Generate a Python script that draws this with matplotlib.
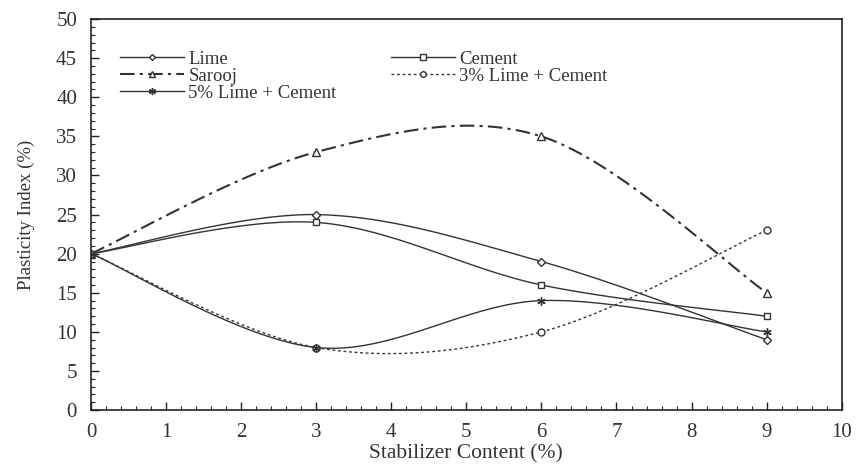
import matplotlib
matplotlib.use("Agg")
import matplotlib.pyplot as plt
import numpy as np
from matplotlib.ticker import MultipleLocator

plt.rcParams['font.family'] = ['Liberation Serif', 'DejaVu Serif']

# Teor de estabilizante (%)
stabilizer = [0, 3, 6, 9]

# Índice de plasticidade (%) para cada estabilizante
lime = [20, 25, 19, 9]
cement = [20, 24, 16, 12]
sarooj = [20, 33, 35, 15]
lime3_cement = [20, 8, 10, 23]
lime5_cement = [20, 8, 14, 10]


def smooth_curve(x, y, n=40):
    """Curva suavizada por segmentos de Bézier (tangentes tipo Catmull-Rom)."""
    pts = np.column_stack([np.asarray(x, float), np.asarray(y, float)])
    out = []
    for i in range(len(pts) - 1):
        p0 = pts[max(i - 1, 0)]
        p1 = pts[i]
        p2 = pts[i + 1]
        p3 = pts[min(i + 2, len(pts) - 1)]
        c1 = p1 + (p2 - p0) / 6.0
        c2 = p2 - (p3 - p1) / 6.0
        t = np.linspace(0, 1, n)[:, None]
        seg = ((1 - t) ** 3) * p1 + 3 * ((1 - t) ** 2) * t * c1 \
            + 3 * (1 - t) * t ** 2 * c2 + t ** 3 * p2
        out.append(seg if i == 0 else seg[1:])
    curve = np.vstack(out)
    return curve[:, 0], curve[:, 1]


fig = plt.figure(figsize=(8.56, 4.66), dpi=100)
ax = fig.add_axes([0.1063, 0.120, 0.877, 0.839])

cor = '#333333'
series = [
    ('Lime', lime, '-', 'D', 4),
    ('Cement', cement, '-', 's', 5),
    ('Sarooj', sarooj, (0, (7, 2.5, 1.5, 2.5)), '^', 6),
    ('3% Lime + Cement', lime3_cement, (0, (2, 2)), 'o', 5),
    ('5% Lime + Cement', lime5_cement, '-', (6, 2, 0), 6),
]

handles = {}
for nome, valores, estilo, marcador, tam in series:
    xs, ys = smooth_curve(stabilizer, valores)
    larg = 1.5 if nome == 'Sarooj' else 1.0
    ax.plot(xs, ys, linestyle=estilo, color=cor, linewidth=larg)
    ax.plot(stabilizer, valores, linestyle='none', marker=marcador,
            markersize=tam, markerfacecolor='white', markeredgecolor=cor,
            markeredgewidth=1.0)
    # Entrada de legenda: linha + marcador
    h, = ax.plot([], [], linestyle=estilo, color=cor, linewidth=larg,
                 marker=marcador, markersize=tam - 1, markerfacecolor='white',
                 markeredgecolor=cor, markeredgewidth=1.0)
    handles[nome] = h

ax.set_xlim(0, 10)
ax.set_ylim(0, 50)
ax.xaxis.set_major_locator(MultipleLocator(1))
ax.xaxis.set_minor_locator(MultipleLocator(0.2))
ax.yaxis.set_major_locator(MultipleLocator(5))
ax.yaxis.set_minor_locator(MultipleLocator(1))
ax.tick_params(which='both', direction='in', top=False, right=False,
               labelsize=15, color='#222222', labelcolor='#333333')
ax.tick_params(axis='x', pad=9)
ax.tick_params(axis='y', pad=10)
ax.tick_params(which='major', length=6, width=1)
ax.tick_params(which='minor', length=3, width=0.8)
for s in ax.spines.values():
    s.set_linewidth(1.2)
    s.set_color('#222222')

ax.set_xlabel('Stabilizer Content (%)', fontsize=15.5, color='#333333')
ax.set_ylabel('Plasticity Index (%)', fontsize=13.5, color='#333333')
ax.xaxis.set_label_coords(0.5, -0.088)
ax.yaxis.set_label_coords(-0.0746, 0.5)

# Ordem para preencher a legenda linha a linha em duas colunas
ordem = ['Lime', 'Sarooj', '5% Lime + Cement', 'Cement', '3% Lime + Cement']
ax.legend([handles[k] for k in ordem], ordem, ncol=2, frameon=False,
          loc='upper left', bbox_to_anchor=(0.0386, 0.92), fontsize=13.5,
          handlelength=3.4, handletextpad=0.25, labelspacing=0.0,
          columnspacing=2.9, borderaxespad=0, borderpad=0,
          labelcolor='#333333')

fig.savefig('out.png', dpi=100)
